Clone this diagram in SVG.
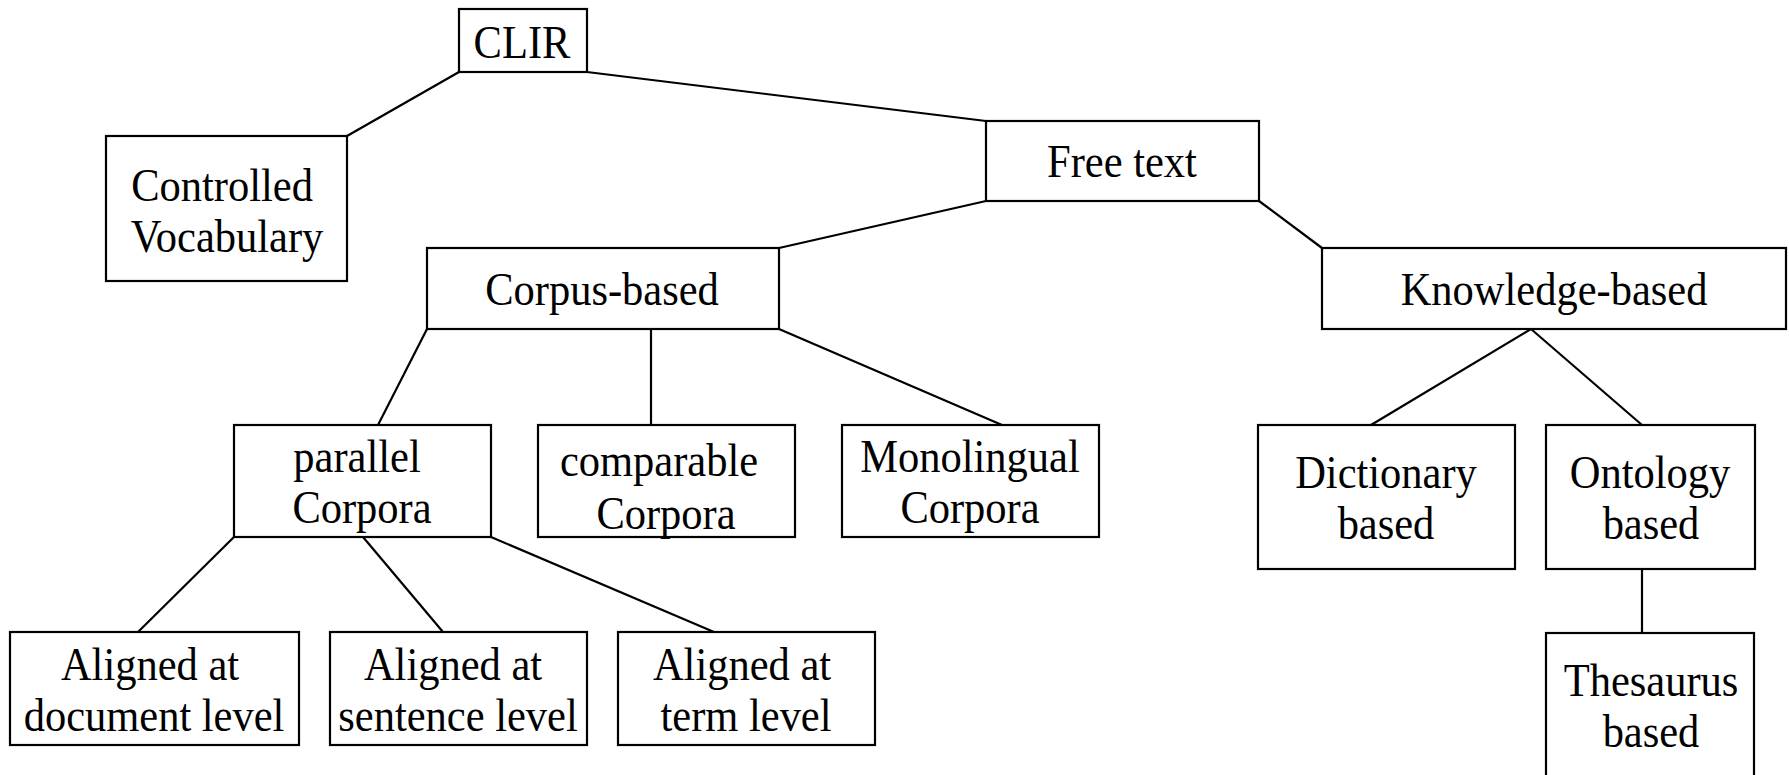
<svg xmlns="http://www.w3.org/2000/svg" width="1789" height="775" viewBox="0 0 1789 775">
  <style>
    .box { fill: #ffffff; stroke: #000000; stroke-width: 2.2; }
    .edge { stroke: #000000; stroke-width: 2.2; fill: none; }
    text { font-family: "Liberation Serif", "Times New Roman", serif; font-size: 42.5px; fill: #000000; text-anchor: middle; }
  </style>
  <rect width="1789" height="775" fill="#ffffff"/>

  <!-- tree connectors -->
  <g id="connectors">
    <line class="edge" x1="459" y1="72" x2="347" y2="136"/>
    <line class="edge" x1="587" y1="72" x2="986" y2="121"/>
    <line class="edge" x1="986" y1="201" x2="779" y2="248"/>
    <line class="edge" x1="1259" y1="201" x2="1322" y2="248"/>
    <line class="edge" x1="427" y1="329" x2="378" y2="425"/>
    <line class="edge" x1="651" y1="329" x2="651" y2="425"/>
    <line class="edge" x1="779" y1="329" x2="1002" y2="425"/>
    <line class="edge" x1="234" y1="537" x2="138" y2="632"/>
    <line class="edge" x1="363" y1="537" x2="443" y2="632"/>
    <line class="edge" x1="491" y1="537" x2="714" y2="632"/>
    <line class="edge" x1="1531" y1="329" x2="1371" y2="425"/>
    <line class="edge" x1="1531" y1="329" x2="1642" y2="425"/>
    <line class="edge" x1="1642" y1="569" x2="1642" y2="633"/>
  </g>

  <!-- labels are stretched slightly taller: translate to the baseline, then scale -->
  <g id="clir">
    <rect class="box" x="459" y="9" width="128" height="63"/>
    <text transform="translate(522 58) scale(1 1.07)">CLIR</text>
  </g>

  <g id="controlled-vocabulary">
    <rect class="box" x="106" y="136" width="241" height="145"/>
    <text transform="translate(222 201) scale(1 1.07)">Controlled</text>
    <text transform="translate(227 252) scale(1 1.07)">Vocabulary</text>
  </g>

  <g id="free-text">
    <rect class="box" x="986" y="121" width="273" height="80"/>
    <text transform="translate(1122 177) scale(1 1.07)">Free text</text>
  </g>

  <g id="corpus-based">
    <rect class="box" x="427" y="248" width="352" height="81"/>
    <text transform="translate(602 305) scale(1 1.07)">Corpus-based</text>
  </g>

  <g id="knowledge-based">
    <rect class="box" x="1322" y="248" width="464" height="81"/>
    <text transform="translate(1554 305) scale(1 1.07)">Knowledge-based</text>
  </g>

  <g id="parallel-corpora">
    <rect class="box" x="234" y="425" width="257" height="112"/>
    <text transform="translate(357 472) scale(1 1.07)">parallel</text>
    <text transform="translate(362 523) scale(1 1.07)">Corpora</text>
  </g>

  <g id="comparable-corpora">
    <rect class="box" x="538" y="425" width="257" height="112"/>
    <text transform="translate(659 476) scale(1 1.07)">comparable</text>
    <text transform="translate(666 529) scale(1 1.07)">Corpora</text>
  </g>

  <g id="monolingual-corpora">
    <rect class="box" x="842" y="425" width="257" height="112"/>
    <text transform="translate(970 472) scale(1 1.07)">Monolingual</text>
    <text transform="translate(970 523) scale(1 1.07)">Corpora</text>
  </g>

  <g id="aligned-document">
    <rect class="box" x="10" y="632" width="289" height="113"/>
    <text transform="translate(150 680) scale(1 1.07)">Aligned at</text>
    <text transform="translate(154 731) scale(1 1.07)">document level</text>
  </g>

  <g id="aligned-sentence">
    <rect class="box" x="330" y="632" width="257" height="113"/>
    <text transform="translate(453 680) scale(1 1.07)">Aligned at</text>
    <text transform="translate(458 731) scale(1 1.07)">sentence level</text>
  </g>

  <g id="aligned-term">
    <rect class="box" x="618" y="632" width="257" height="113"/>
    <text transform="translate(742 680) scale(1 1.07)">Aligned at</text>
    <text transform="translate(746 731) scale(1 1.07)">term level</text>
  </g>

  <g id="dictionary-based">
    <rect class="box" x="1258" y="425" width="257" height="144"/>
    <text transform="translate(1386 488) scale(1 1.07)">Dictionary</text>
    <text transform="translate(1386 539) scale(1 1.07)">based</text>
  </g>

  <g id="ontology-based">
    <rect class="box" x="1546" y="425" width="209" height="144"/>
    <text transform="translate(1650 488) scale(1 1.07)">Ontology</text>
    <text transform="translate(1651 539) scale(1 1.07)">based</text>
  </g>

  <g id="thesaurus-based">
    <rect class="box" x="1546" y="633" width="208" height="160"/>
    <text transform="translate(1651 696) scale(1 1.07)">Thesaurus</text>
    <text transform="translate(1651 747) scale(1 1.07)">based</text>
  </g>
</svg>
